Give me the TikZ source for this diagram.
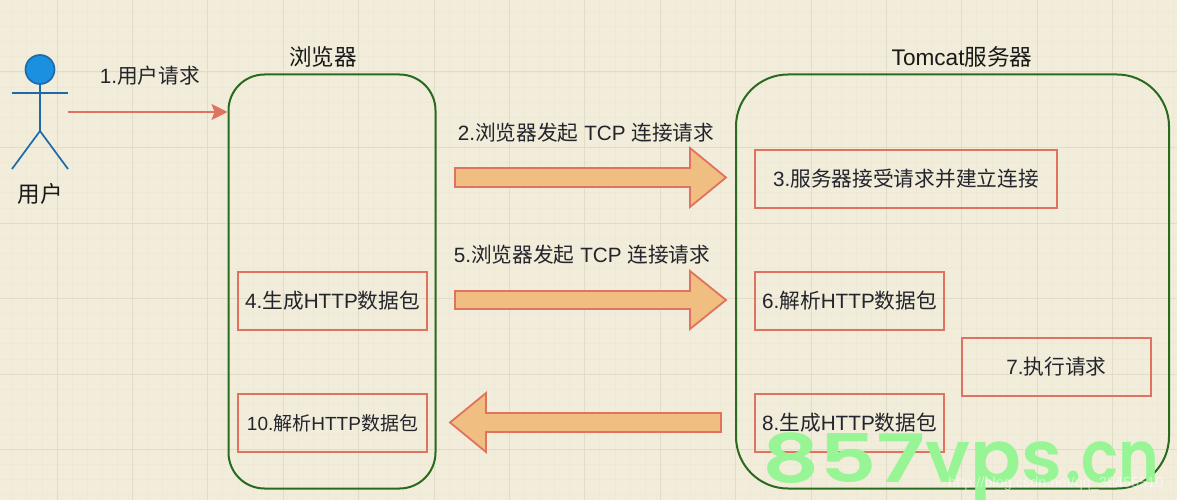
\documentclass[tikz,border=0pt]{standalone}
\usepackage{fontspec}
\setmainfont{Liberation Sans}
\newfontfamily\cjk{Noto Sans CJK SC}
\newfontfamily\wmfont{Poppins SemiBold}
\usetikzlibrary{arrows.meta}
\definecolor{bgc}{HTML}{F1EDDA}
\definecolor{gridmin}{HTML}{EDE9D5}
\definecolor{gridmaj}{HTML}{E0DCC6}
\definecolor{grn}{HTML}{2A6A1E}
\definecolor{redl}{HTML}{E0735F}
\definecolor{org}{HTML}{F0BE80}
\definecolor{blu}{HTML}{1E6AA8}
\definecolor{blufill}{HTML}{1B8FE0}
\definecolor{ink}{HTML}{24242C}
\definecolor{wmg}{HTML}{98F596}
\tikzset{
 x=1pt,y=-1pt,
 lane/.style={draw=grn,line width=2pt,fill=none,minimum height=414pt,anchor=north west,inner sep=0pt},
 box/.style={draw=redl,line width=2pt,minimum height=58pt,inner sep=0pt,text=ink,font=\fontsize{20.7}{24}\selectfont,anchor=north west},
 lbl/.style={text=ink,inner sep=0pt,font=\fontsize{20.7}{24}\selectfont},
 ttl/.style={text=black!90,inner sep=0pt,font=\fontsize{22.6}{26}\selectfont},
 fat/.style={draw=redl,fill=org,line width=1.8pt,line join=miter},
 actor/.style={draw=blu,line width=1.7pt},
}
\newcommand{\htp}[1]{#1{\cjk 生成}HTTP{\cjk 数据包}}
\newcommand{\jx}[1]{#1{\cjk 解析}HTTP{\cjk 数据包}}
\begin{document}
\begin{tikzpicture}
\useasboundingbox (0,0) rectangle (1177,500);
\fill[bgc] (0,0) rectangle (1177,500);
\foreach \k in {-3,...,78}{\draw[gridmin,line width=.8pt] ({57+15.08*\k},0) -- ({57+15.08*\k},500);}
\foreach \k in {-4,...,29}{\draw[gridmin,line width=.8pt] (0,{72+15.1*\k}) -- (1177,{72+15.1*\k});}
\foreach \k in {0,...,14}{\draw[gridmaj,line width=1pt] ({57+75.4*\k},0) -- ({57+75.4*\k},500);}
\foreach \k in {0,...,5}{\draw[gridmaj,line width=1pt] (0,{72+75.5*\k}) -- (1177,{72+75.5*\k});}
% lanes
\node[lane,rounded corners=36pt,minimum width=207pt] (browser) at (227.5,73.5) {};
\node[lane,rounded corners=52pt,minimum width=433pt] (server) at (735,73.5) {};
\node[ttl] (tb) at (323,57) {\cjk 浏览器};
\node[ttl] (ts) at (962,57) {Tomcat{\cjk 服务器}};
% actor
\node[circle,draw=blu,fill=blufill,line width=1.7pt,minimum size=29pt,inner sep=0pt] (head) at (40,69.5) {};
\coordinate (hip) at (40,131);
\coordinate (armL) at (12,93);
\coordinate (armR) at (68,93);
\coordinate (legL) at (12,169);
\coordinate (legR) at (68,169);
\draw[actor] (head.south) -- (hip);
\draw[actor] (armL) -- (armR);
\draw[actor] (legL) -- (hip) -- (legR);
\node[ttl] (user) at (40,194) {\cjk 用户};
% request
\coordinate (reqs) at (68,112);
\draw[redl,line width=2pt,-{Stealth[length=16pt,width=16pt,inset=3pt]}] (reqs) -- (browser.west |- reqs);
\node[lbl] (l1) at (150,76) {1.{\cjk 用户请求}};
% boxes
\node[box,minimum width=302pt] (b3) at (754,149) {3.{\cjk 服务器接受请求并建立连接}};
\node[box,minimum width=189pt] (b4) at (237,271) {\htp{4.}};
\node[box,minimum width=189pt] (b6) at (754,271) {\jx{6.}};
\node[box,minimum width=189pt] (b7) at (961,337) {7.{\cjk 执行请求}};
\node[box,minimum width=189pt] (b8) at (754,393) {\htp{8.}};
\node[box,minimum width=189pt,font=\fontsize{19}{24}\selectfont] (b10) at (237,393) {\jx{10.}};
% fat arrows
\draw[fat] (455,168) -- (690,168) -- (690,148) -- (726,177.5) -- (690,207) -- (690,187) -- (455,187) -- cycle;
\draw[fat] (455,291) -- (690,291) -- (690,271) -- (726,300) -- (690,329) -- (690,309) -- (455,309) -- cycle;
\draw[fat] (721,413) -- (486,413) -- (486,393) -- (450,422.5) -- (486,452) -- (486,432) -- (721,432) -- cycle;
\node[lbl] (l2) at (586,133) {2.{\cjk 浏览器发起} TCP {\cjk 连接请求}};
\node[lbl] (l5) at (582,255) {5.{\cjk 浏览器发起} TCP {\cjk 连接请求}};
% watermark
\node[inner sep=0pt,text=wmg,anchor=base west,font=\wmfont\fontsize{67}{72}\selectfont] (wm) at (762,482) {\scalebox{1.33}[1]{857}\scalebox{1.12}[1.08]{vps}\hspace{3pt}\scalebox{0.92}[1.08]{.cn}};
\node[inner sep=0pt,text=white,opacity=.55,anchor=base west,font=\fontsize{14.5}{16}\selectfont] (url) at (948,487) {http://blog.csdn.net/qq\_38455510};
\end{tikzpicture}
\end{document}
